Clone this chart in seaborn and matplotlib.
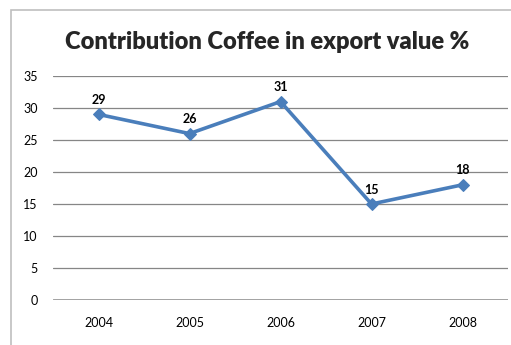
import matplotlib
matplotlib.use("Agg")
import matplotlib.pyplot as plt
from matplotlib.patches import Rectangle
import seaborn as sns
import pandas as pd

# --- Dados ---
years = ["2004", "2005", "2006", "2007", "2008"]
coffee_share = [29, 26, 31, 15, 18]
y_ticks = [0, 5, 10, 15, 20, 25, 30, 35]

df = pd.DataFrame({"pos": range(len(years)), "year": years, "value": coffee_share})

sns.set_theme(style="white")
plt.rcParams["font.family"] = ["Lato", "DejaVu Sans"]

fig = plt.figure(figsize=(5.11, 3.45), dpi=100)
ax = fig.add_axes([53 / 511, 1 - 300 / 345, 455 / 511, 224 / 345])

line_color = "#4A7EBB"
sns.lineplot(data=df, x="pos", y="value", ax=ax, color=line_color, linewidth=2.6,
             marker="D", markersize=6.5, markeredgecolor=line_color)

for _, row in df.iterrows():
    ax.annotate(str(row["value"]), (row["pos"], row["value"]), xytext=(0, 6),
                textcoords="offset points", ha="center", va="bottom",
                fontsize=9, fontweight="bold", color="black")

ax.set_xlim(-0.5, len(years) - 0.5)
ax.set_ylim(0, 35)
ax.set_yticks(y_ticks)
ax.set_xticks(df["pos"])
ax.set_xticklabels(years)
ax.set_xlabel(None)
ax.set_ylabel(None)
ax.tick_params(axis="both", length=0, labelsize=9, colors="black")
ax.tick_params(axis="x", pad=12)
ax.tick_params(axis="y", pad=11)

for t in y_ticks[1:]:
    ax.axhline(t, color="#868686", linewidth=0.9, zorder=0)
ax.axhline(0, color="#868686", linewidth=1.8, zorder=0)
for s in ax.spines.values():
    s.set_visible(False)

fig.text(267 / 511, 1 - 42 / 345, "Contribution Coffee in export value %",
         ha="center", va="center", fontsize=17, fontweight="heavy")

# moldura do gráfico (cortada à direita e em baixo)
fig.patches.append(Rectangle((11 / 511, -0.2), 1.0, 1.2 - 10 / 345, transform=fig.transFigure,
                             fill=False, edgecolor="#BFBFBF", linewidth=1.2))

fig.savefig("out.png", dpi=100)
